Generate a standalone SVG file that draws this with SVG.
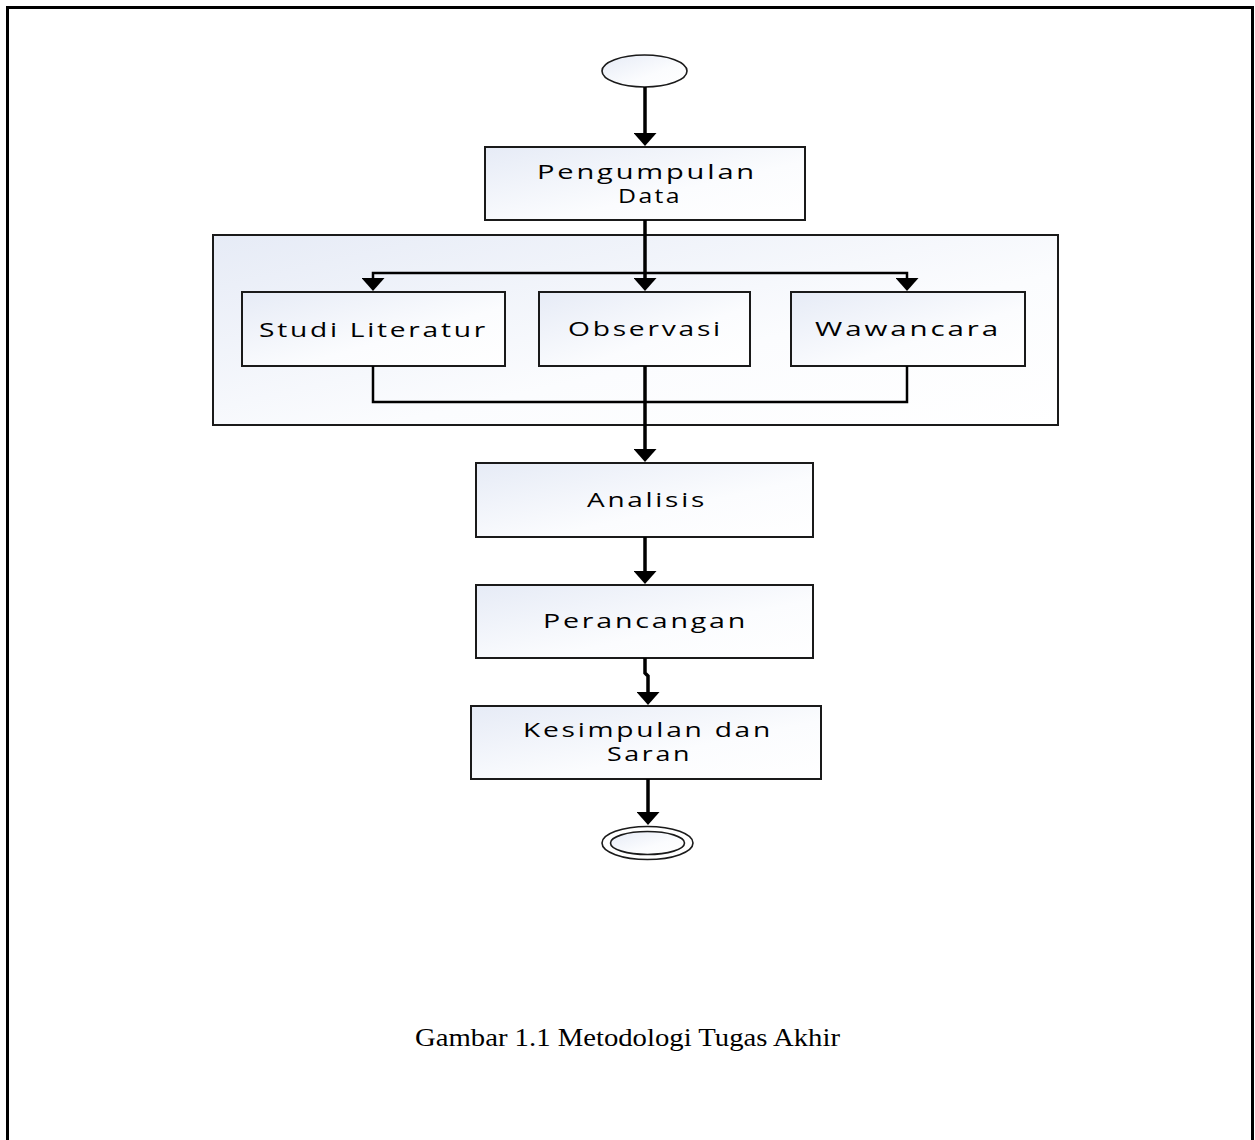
<svg xmlns="http://www.w3.org/2000/svg" width="1255" height="1140" viewBox="0 0 1255 1140">
<style>
.box{stroke:#1a1a1a;stroke-width:2;fill:url(#g)}
.lbl{font-family:"Open Sans","DejaVu Sans",sans-serif;font-size:20.5px;letter-spacing:2px;fill:#000}
.cap{font-family:"Liberation Serif","Times New Roman",serif;font-size:24.5px;fill:#000}
.thick{stroke:#000;stroke-width:3.5;fill:none}
.thin{stroke:#000;stroke-width:2.5;fill:none}
</style>
<defs>
<linearGradient id="g" x1="0" y1="0" x2="1" y2="1">
<stop offset="0" stop-color="#e6ebf6"/>
<stop offset="0.6" stop-color="#fbfcfe"/>
<stop offset="1" stop-color="#ffffff"/>
</linearGradient>
<marker id="ah" viewBox="0 0 13 23" markerUnits="userSpaceOnUse" markerWidth="13" markerHeight="23" refX="1" refY="11.5" orient="auto">
<path d="M0,0 L13,11.5 L0,23 z" fill="#000"/>
</marker>
</defs>
<rect x="0" y="0" width="1255" height="1140" fill="#fff"/>
<rect id="frame" x="7.5" y="7.5" width="1245" height="1200" fill="none" stroke="#000" stroke-width="3"/>

<g id="container">
<rect x="213" y="235" width="845" height="190" class="box"/>
</g>

<g id="start">
<ellipse cx="644.5" cy="71" rx="42.5" ry="16" fill="url(#g)" stroke="#1a1a1a" stroke-width="1.6"/>
</g>

<g id="pengumpulan">
<rect x="485" y="147" width="320" height="73" class="box"/>
<text class="lbl" x="537" y="179" textLength="220" lengthAdjust="spacingAndGlyphs">Pengumpulan</text>
<text class="lbl" x="618" y="202.5" textLength="64" lengthAdjust="spacingAndGlyphs">Data</text>
</g>

<g id="studi">
<rect x="242" y="292" width="263" height="74" class="box"/>
<text class="lbl" x="259" y="336.5" textLength="229" lengthAdjust="spacingAndGlyphs">Studi Literatur</text>
</g>

<g id="observasi">
<rect x="539" y="292" width="211" height="74" class="box"/>
<text class="lbl" x="568" y="335.5" textLength="155" lengthAdjust="spacingAndGlyphs">Observasi</text>
</g>

<g id="wawancara">
<rect x="791" y="292" width="234" height="74" class="box"/>
<text class="lbl" x="815" y="336" textLength="186" lengthAdjust="spacingAndGlyphs">Wawancara</text>
</g>

<g id="analisis">
<rect x="476" y="463" width="337" height="74" class="box"/>
<text class="lbl" x="587" y="507" textLength="120" lengthAdjust="spacingAndGlyphs">Analisis</text>
</g>

<g id="perancangan">
<rect x="476" y="585" width="337" height="73" class="box"/>
<text class="lbl" x="543" y="628" textLength="205" lengthAdjust="spacingAndGlyphs">Perancangan</text>
</g>

<g id="kesimpulan">
<rect x="471" y="706" width="350" height="73" class="box"/>
<text class="lbl" x="523" y="737" textLength="250" lengthAdjust="spacingAndGlyphs">Kesimpulan dan</text>
<text class="lbl" x="607" y="760.5" textLength="85" lengthAdjust="spacingAndGlyphs">Saran</text>
</g>

<g id="end">
<ellipse cx="647.5" cy="843" rx="45.5" ry="16.5" fill="#fff" stroke="#1a1a1a" stroke-width="1.6"/>
<ellipse cx="647.5" cy="843" rx="37" ry="11.5" fill="url(#g)" stroke="#1a1a1a" stroke-width="1.6"/>
</g>

<g id="connectors">
<path class="thick" d="M645,87 V134" marker-end="url(#ah)"/>
<path class="thick" d="M645,220 V279" marker-end="url(#ah)"/>
<path class="thin" d="M645,273 H373 V279" marker-end="url(#ah)"/>
<path class="thin" d="M645,273 H907 V279" marker-end="url(#ah)"/>
<path class="thin" d="M373,366 V402 H907 V366"/>
<path class="thick" d="M645,366 V450" marker-end="url(#ah)"/>
<path class="thick" d="M645,537 V572" marker-end="url(#ah)"/>
<path class="thick" d="M645,658 V673 L648,676 V693" marker-end="url(#ah)"/>
<path class="thick" d="M648,779 V813" marker-end="url(#ah)"/>
</g>

<text class="cap" x="415" y="1045.5" textLength="425" lengthAdjust="spacingAndGlyphs">Gambar 1.1 Metodologi Tugas Akhir</text>
</svg>
